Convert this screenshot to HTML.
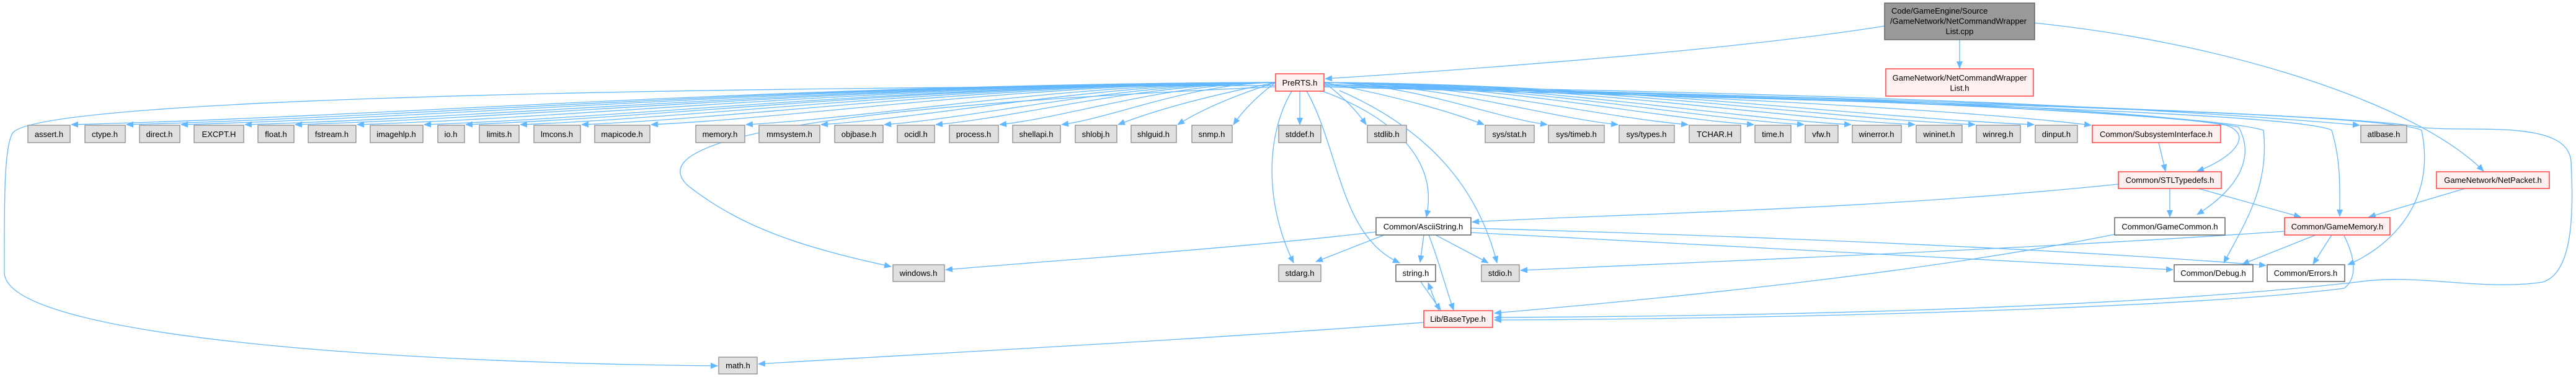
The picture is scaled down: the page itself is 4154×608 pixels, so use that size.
<!DOCTYPE html>
<html><head><meta charset="utf-8"><style>
html,body{margin:0;padding:0;background:#fff;}
svg{display:block;}
text{font-family:"Liberation Sans",Arial,sans-serif;font-size:13px;fill:#000;}
</style></head><body>
<svg id="s" width="4154" height="608" viewBox="0 0 4154 608" xmlns="http://www.w3.org/2000/svg">
<defs><marker id="a" markerWidth="12" markerHeight="10" refX="11" refY="5" orient="auto" markerUnits="userSpaceOnUse"><path d="M0,0 L12,5 L0,10 Z" fill="#63b8ff"/></marker></defs>
<g id="edges" fill="none" stroke="#63b8ff" stroke-width="1.3" marker-end="url(#a)">
<path d="M3039,42 C2800,80 2400,110 2137,127"/>
<path d="M3160,64 L3160,110"/>
<path d="M3281,37 C3600,70 3900,170 4005,276"/>
<path d="M2130,146 C2250,190 2320,260 2300,350"/>
<path d="M2083,147 C2040,220 2040,330 2086,424"/>
<path d="M2107,147 C2160,240 2160,380 2257,424"/>
<path d="M2160,146 C2330,220 2390,330 2414,424"/>
<path d="M2057,140 C1600,160 1000,200 1110,300 C1200,370 1300,400 1437,430"/>
<path d="M2057,138 C1400,140 60,150 20,215 C6,240 7,330 7,440 C10,540 600,585 1157,590"/>
<path d="M2096,147 L2096,201"/>
<path d="M2135,140 C2800,150 3400,170 3590,202 C3640,220 3590,260 3543,276"/>
<path d="M2135,140 C2800,150 3500,180 3610,205 C3640,260 3600,310 3543,346"/>
<path d="M2135,140 C2800,150 3550,180 3650,210 C3660,300 3620,360 3586,424"/>
<path d="M2135,140 C2900,160 3700,180 3760,210 C3775,260 3773,300 3773,349"/>
<path d="M2135,140 C2900,160 3850,180 3905,210 C3930,330 3850,400 3786,427"/>
<path d="M2135,138 C3000,150 3500,175 3805,202"/>
<path d="M2135,138 C3200,160 3850,190 3900,205 C3980,215 4140,190 4146,260 C4150,340 4150,440 4100,455 C4000,470 3900,440 3800,455 C3400,500 2800,510 2410,512"/>
<path d="M3780,380 C3800,420 3800,450 3780,465 C3500,500 2800,515 2410,516"/>
<path d="M3410,378 C3100,440 2700,480 2410,505"/>
<path d="M2219,374 C2000,400 1700,420 1525,435"/>
<path d="M2232,379 L2122,422"/>
<path d="M2296,379 L2290,423"/>
<path d="M2315,379 L2400,424"/>
<path d="M2304,379 C2320,420 2330,460 2344,500"/>
<path d="M2372,375 C2800,400 3200,420 3504,435"/>
<path d="M2372,368 C2800,380 3300,400 3654,428"/>
<path d="M3416,297 C3000,340 2600,345 2374,358"/>
<path d="M3499,304 L3499,350"/>
<path d="M3545,304 L3710,350"/>
<path d="M3481,230 L3492,276"/>
<path d="M3975,304 L3820,350"/>
<path d="M3684,373 C3300,400 2800,420 2452,436"/>
<path d="M3734,379 L3616,426"/>
<path d="M3760,379 L3730,426"/>
<path d="M2290,453 L2323,500"/>
<path d="M2320,501 L2303,456"/>
<path d="M2296,520 C1900,550 1500,570 1223,587"/>
</g>
<g id="fan" fill="none" stroke="#63b8ff" stroke-width="1.3" marker-end="url(#a)"></g>
<g id="nodes" stroke-width="1.5">
<rect x="3039" y="5" width="242" height="59" fill="#999999" stroke="#666666"/>
<text x="3160" y="22" text-anchor="middle"><tspan x="3050" text-anchor="start">Code/GameEngine/Source</tspan><tspan x="3048" dy="16.5" text-anchor="start">/GameNetwork/NetCommandWrapper</tspan><tspan x="3160" dy="16.5">List.cpp</tspan></text>
<rect x="3041" y="111" width="238" height="44" fill="#fff0f0" stroke="#ff4040"/>
<text x="3160" y="130" text-anchor="middle">GameNetwork/NetCommandWrapper<tspan x="3160" dy="16.5">List.h</tspan></text>
<rect x="2057" y="119" width="78" height="28" fill="#fff0f0" stroke="#ff4040"/><text x="2096" y="138" text-anchor="middle">PreRTS.h</text>
</g>
<g id="boxes"></g>
<g stroke-width="1.5">
<rect x="3374" y="202" width="207" height="28" fill="#fff0f0" stroke="#ff4040"/><text x="3477" y="221" text-anchor="middle">Common/SubsystemInterface.h</text>
<rect x="3416" y="277" width="166" height="27" fill="#fff0f0" stroke="#ff4040"/><text x="3499" y="295" text-anchor="middle">Common/STLTypedefs.h</text>
<rect x="3929" y="277" width="182" height="27" fill="#fff0f0" stroke="#ff4040"/><text x="4020" y="295" text-anchor="middle">GameNetwork/NetPacket.h</text>
<rect x="2219" y="351" width="153" height="28" fill="#fff" stroke="#666666"/><text x="2295" y="370" text-anchor="middle">Common/AsciiString.h</text>
<rect x="3410" y="351" width="178" height="28" fill="#fff" stroke="#666666"/><text x="3499" y="370" text-anchor="middle">Common/GameCommon.h</text>
<rect x="3684" y="351" width="170" height="28" fill="#fff0f0" stroke="#ff4040"/><text x="3769" y="370" text-anchor="middle">Common/GameMemory.h</text>
<rect x="1440" y="427" width="83" height="27" fill="#e0e0e0" stroke="#999999"/><text x="1481" y="445" text-anchor="middle">windows.h</text>
<rect x="2062" y="427" width="68" height="27" fill="#e0e0e0" stroke="#999999"/><text x="2096" y="445" text-anchor="middle">stdarg.h</text>
<rect x="2251" y="427" width="64" height="27" fill="#fff" stroke="#666666"/><text x="2283" y="445" text-anchor="middle">string.h</text>
<rect x="2389" y="427" width="61" height="27" fill="#e0e0e0" stroke="#999999"/><text x="2419" y="445" text-anchor="middle">stdio.h</text>
<rect x="3506" y="427" width="127" height="27" fill="#fff" stroke="#666666"/><text x="3569" y="445" text-anchor="middle">Common/Debug.h</text>
<rect x="3656" y="427" width="125" height="27" fill="#fff" stroke="#666666"/><text x="3718" y="445" text-anchor="middle">Common/Errors.h</text>
<rect x="2296" y="501" width="111" height="27" fill="#fff0f0" stroke="#ff4040"/><text x="2351" y="519" text-anchor="middle">Lib/BaseType.h</text>
<rect x="1159" y="576" width="62" height="27" fill="#e0e0e0" stroke="#999999"/><text x="1190" y="594" text-anchor="middle">math.h</text>
</g>
<g id="row" stroke-width="1.5" fill="#e0e0e0">
<rect x="45" y="202" width="68" height="28" stroke="#999"/><text x="79" y="221" text-anchor="middle">assert.h</text>
<rect x="137" y="202" width="65" height="28" stroke="#999"/><text x="169" y="221" text-anchor="middle">ctype.h</text>
<rect x="225" y="202" width="65" height="28" stroke="#999"/><text x="257" y="221" text-anchor="middle">direct.h</text>
<rect x="313" y="202" width="80" height="28" stroke="#999"/><text x="353" y="221" text-anchor="middle">EXCPT.H</text>
<rect x="416" y="202" width="58" height="28" stroke="#999"/><text x="445" y="221" text-anchor="middle">float.h</text>
<rect x="497" y="202" width="77" height="28" stroke="#999"/><text x="535" y="221" text-anchor="middle">fstream.h</text>
<rect x="597" y="202" width="85" height="28" stroke="#999"/><text x="639" y="221" text-anchor="middle">imagehlp.h</text>
<rect x="706" y="202" width="43" height="28" stroke="#999"/><text x="727" y="221" text-anchor="middle">io.h</text>
<rect x="773" y="202" width="64" height="28" stroke="#999"/><text x="805" y="221" text-anchor="middle">limits.h</text>
<rect x="861" y="202" width="75" height="28" stroke="#999"/><text x="898" y="221" text-anchor="middle">lmcons.h</text>
<rect x="959" y="202" width="89" height="28" stroke="#999"/><text x="1003" y="221" text-anchor="middle">mapicode.h</text>
<rect x="1122" y="202" width="79" height="28" stroke="#999"/><text x="1161" y="221" text-anchor="middle">memory.h</text>
<rect x="1224" y="202" width="98" height="28" stroke="#999"/><text x="1273" y="221" text-anchor="middle">mmsystem.h</text>
<rect x="1346" y="202" width="78" height="28" stroke="#999"/><text x="1385" y="221" text-anchor="middle">objbase.h</text>
<rect x="1447" y="202" width="60" height="28" stroke="#999"/><text x="1477" y="221" text-anchor="middle">ocidl.h</text>
<rect x="1531" y="202" width="79" height="28" stroke="#999"/><text x="1570" y="221" text-anchor="middle">process.h</text>
<rect x="1633" y="202" width="77" height="28" stroke="#999"/><text x="1671" y="221" text-anchor="middle">shellapi.h</text>
<rect x="1734" y="202" width="67" height="28" stroke="#999"/><text x="1767" y="221" text-anchor="middle">shlobj.h</text>
<rect x="1824" y="202" width="73" height="28" stroke="#999"/><text x="1860" y="221" text-anchor="middle">shlguid.h</text>
<rect x="1922" y="202" width="65" height="28" stroke="#999"/><text x="1954" y="221" text-anchor="middle">snmp.h</text>
<rect x="2062" y="202" width="68" height="28" stroke="#999"/><text x="2096" y="221" text-anchor="middle">stddef.h</text>
<rect x="2205" y="202" width="63" height="28" stroke="#999"/><text x="2236" y="221" text-anchor="middle">stdlib.h</text>
<rect x="2395" y="202" width="79" height="28" stroke="#999"/><text x="2434" y="221" text-anchor="middle">sys/stat.h</text>
<rect x="2497" y="202" width="90" height="28" stroke="#999"/><text x="2542" y="221" text-anchor="middle">sys/timeb.h</text>
<rect x="2611" y="202" width="89" height="28" stroke="#999"/><text x="2655" y="221" text-anchor="middle">sys/types.h</text>
<rect x="2724" y="202" width="83" height="28" stroke="#999"/><text x="2765" y="221" text-anchor="middle">TCHAR.H</text>
<rect x="2830" y="202" width="58" height="28" stroke="#999"/><text x="2859" y="221" text-anchor="middle">time.h</text>
<rect x="2911" y="202" width="53" height="28" stroke="#999"/><text x="2937" y="221" text-anchor="middle">vfw.h</text>
<rect x="2987" y="202" width="79" height="28" stroke="#999"/><text x="3026" y="221" text-anchor="middle">winerror.h</text>
<rect x="3090" y="202" width="74" height="28" stroke="#999"/><text x="3127" y="221" text-anchor="middle">wininet.h</text>
<rect x="3187" y="202" width="71" height="28" stroke="#999"/><text x="3222" y="221" text-anchor="middle">winreg.h</text>
<rect x="3282" y="202" width="68" height="28" stroke="#999"/><text x="3316" y="221" text-anchor="middle">dinput.h</text>
<rect x="3807" y="202" width="74" height="28" stroke="#999"/><text x="3844" y="221" text-anchor="middle">atlbase.h</text>
</g>
</svg>
<script>
(function(){
var rects=document.querySelectorAll('#row rect');var g=document.getElementById('fan');
rects.forEach(function(r){
 var x=+r.getAttribute('x'),w=+r.getAttribute('width');
 if(x===2062||x===3807)return;
 var sx,sy=133,ex,ey=201,c1,c2;
 if(x+w<2057){sx=2057;ex=x+w+2;}else{sx=2135;ex=x-2;}
 var dx=ex-sx;
 c1=[sx+dx*0.4,sy+(Math.abs(dx)<300?20:2)];
 c2=[ex-dx*0.25,ey-(Math.abs(dx)<300?25:12)];
 var p=document.createElementNS('http://www.w3.org/2000/svg','path');
 p.setAttribute('d','M'+sx+','+sy+' C'+c1[0]+','+c1[1]+' '+c2[0]+','+c2[1]+' '+ex+','+ey);
 g.appendChild(p);
});
var p=document.createElementNS('http://www.w3.org/2000/svg','path');
p.setAttribute('d','M2135,136 C2700,150 3200,180 3372,202');g.appendChild(p);
})();
</script>
</body></html>
